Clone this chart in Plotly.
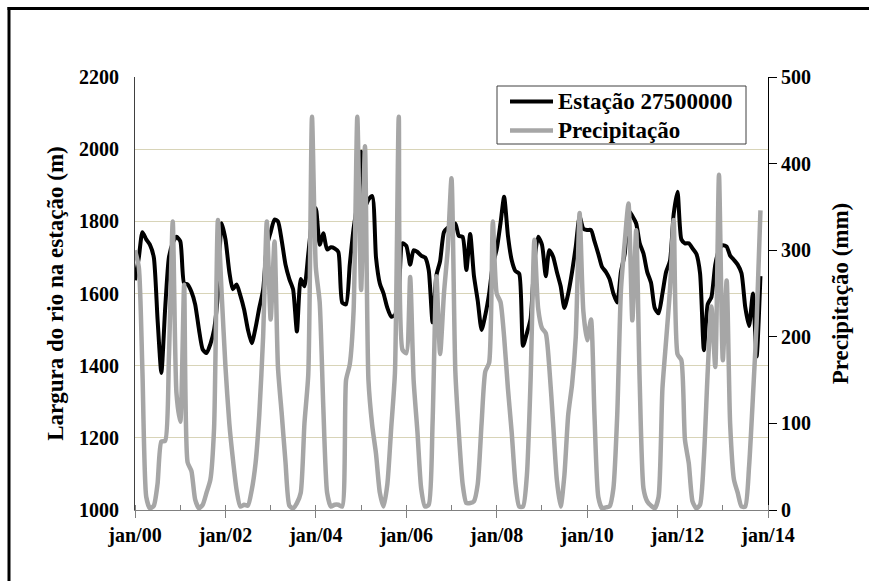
import pandas as pd
import plotly.graph_objects as go

# Monthly series, Jan 2000 - Nov 2013
start_month = "2000-01-01"
n_months = 167

# River width at gauge station 27500000 (m)
largura = [
    1637, 1700, 1770, 1750, 1735, 1700, 1530, 1380, 1560, 1700,
    1740, 1757, 1745, 1628, 1625, 1605, 1570, 1500, 1445, 1435,
    1460, 1500, 1600, 1795, 1750, 1660, 1612, 1625, 1595, 1555,
    1500, 1462, 1505, 1560, 1610, 1730, 1770, 1805, 1800, 1745,
    1680, 1640, 1612, 1495, 1640, 1620, 1710, 1800, 1836, 1735,
    1767, 1722, 1728, 1725, 1715, 1575, 1570, 1680, 1780, 1850,
    1993, 1840, 1860, 1870, 1700, 1628, 1600, 1560, 1536, 1540,
    1600, 1739, 1732, 1680, 1720, 1715, 1705, 1700, 1665, 1520,
    1650, 1690, 1770, 1782, 1788, 1794, 1760, 1757, 1665, 1765,
    1650, 1580, 1499, 1540, 1600, 1680, 1722, 1795, 1868, 1760,
    1693, 1662, 1655, 1455, 1490, 1530, 1690, 1757, 1735, 1648,
    1720, 1702, 1660, 1620, 1560, 1600, 1660, 1730, 1813, 1780,
    1776, 1776, 1745, 1710, 1674, 1660, 1640, 1600, 1575, 1660,
    1711, 1830, 1815, 1794, 1740, 1711, 1660, 1630, 1560, 1545,
    1600, 1660, 1690, 1820, 1882, 1750, 1739, 1739, 1725, 1710,
    1656, 1443, 1570, 1590, 1680, 1720, 1734, 1730, 1705, 1693,
    1680, 1656, 1563, 1510, 1600, 1425, 1648,
]

# Monthly precipitation (mm)
precipitacao = [
    300, 280, 160, 15, 2, 5, 30, 79, 80, 177,
    333, 135, 102, 260, 55, 45, 12, 2, 6, 20,
    35, 95, 335, 250, 165, 100, 60, 23, 4, 6,
    5, 23, 54, 110, 200, 333, 220, 310, 165, 110,
    55, 5, 2, 8, 20, 100, 157, 454, 280, 240,
    120, 20, 4, 6, 6, 4, 150, 168, 230, 454,
    254, 420, 150, 97, 65, 20, 4, 30, 95, 158,
    454, 185, 181, 269, 150, 90, 25, 4, 6, 100,
    270, 180, 250, 300, 383, 160, 90, 30, 8, 8,
    10, 30, 100, 160, 170, 333, 250, 240, 200, 140,
    90, 30, 4, 4, 40, 150, 312, 233, 210, 204,
    165, 100, 35, 4, 40, 110, 145, 200, 343, 230,
    196, 220, 110, 15, 2, 3, 4, 25, 110, 254,
    310, 354, 219, 323, 150, 25, 10, 5, 2, 15,
    140, 196, 254, 335, 180, 173, 81, 54, 10, 2,
    6, 60, 160, 235, 165, 387, 173, 265, 100, 35,
    20, 4, 4, 50, 130, 216, 346,
]

series_names = ["Estação 27500000", "Precipitação"]
series_colors = ["black", "#a6a6a6"]

# Axis labels
x_tick_dates = ["2000-01-01", "2002-01-01", "2004-01-01", "2006-01-01",
                "2008-01-01", "2010-01-01", "2012-01-01", "2014-01-01"]
x_tick_text = ["jan/00", "jan/02", "jan/04", "jan/06",
               "jan/08", "jan/10", "jan/12", "jan/14"]
x_minor_dates = [f"{y}-01-01" for y in range(2000, 2015)]
y_left_ticks = [1000, 1200, 1400, 1600, 1800, 2000, 2200]
y_right_ticks = [0, 100, 200, 300, 400, 500]

meses = pd.date_range(start_month, periods=n_months, freq="MS")

FONT = "Liberation Serif, Times New Roman, serif"
W, H = 869, 581
L, R, T, B = 135, 101, 77, 71
pw, ph = W - L - R, H - T - B


def px(x):
    """Page x pixel -> paper coordinate."""
    return (x - L) / pw


def py(y):
    """Page y pixel (from top) -> paper coordinate."""
    return (H - B - y) / ph


fig = go.Figure()
fig.add_trace(go.Scatter(
    x=meses, y=largura, name=series_names[0], mode="lines",
    line=dict(color=series_colors[0], width=4, shape="spline", smoothing=0.6),
))
fig.add_trace(go.Scatter(
    x=meses, y=precipitacao, name=series_names[1], mode="lines", yaxis="y2",
    line=dict(color=series_colors[1], width=4.5, shape="spline", smoothing=0.6),
))

tick_font = dict(family=FONT, size=20, color="black", weight="bold")
title_font = dict(family=FONT, size=23, color="black", weight="bold")

fig.update_layout(
    width=W, height=H,
    margin=dict(l=L, r=R, t=T, b=B),
    paper_bgcolor="white", plot_bgcolor="white",
    showlegend=False,
    xaxis=dict(
        type="date", range=["2000-01-01", "2014-01-01"],
        tickmode="array", tickvals=x_tick_dates, ticktext=x_tick_text,
        ticks="outside", ticklen=7, tickcolor="#808080", tickwidth=1,
        showline=True, linecolor="#808080", linewidth=1,
        showgrid=False, zeroline=False, tickfont=tick_font,
        minor=dict(tickmode="array", tickvals=x_minor_dates, ticks="inside",
                   ticklen=5, tickcolor="#808080", showgrid=False),
    ),
    yaxis=dict(
        range=[1000, 2200], tickmode="array", tickvals=y_left_ticks,
        showgrid=True, gridcolor="#d8d4b8", gridwidth=1,
        showline=True, linecolor="#404040", linewidth=1,
        ticks="", zeroline=False, tickfont=tick_font, ticklabelstandoff=11,
        title=dict(text="Largura do rio na estação (m)", font=title_font, standoff=8),
    ),
    yaxis2=dict(
        range=[0, 500], tickmode="array", tickvals=y_right_ticks,
        overlaying="y", side="right",
        showgrid=False, zeroline=False,
        showline=True, linecolor="black", linewidth=1,
        ticks="outside", ticklen=8, tickcolor="black",
        tickfont=tick_font,
        title=dict(text="Precipitação (mm)", font=title_font, standoff=21),
    ),
)

# Chart frame: solid bars along the left and top edges
for x0, x1, y0, y1 in [(7.5, 10.5, 7, H), (7.5, W, 7, 10)]:
    fig.add_shape(type="rect", xref="paper", yref="paper",
                  x0=px(x0), x1=px(x1), y0=py(y1), y1=py(y0),
                  line=dict(width=0), fillcolor="black", layer="above")

# Legend box with line samples
fig.add_shape(type="rect", xref="paper", yref="paper",
              x0=px(497), x1=px(746), y0=py(144), y1=py(86),
              line=dict(color="#404040", width=1), fillcolor="white", layer="above")
for i, (name, color) in enumerate(zip(series_names, series_colors)):
    yc = 101.5 + 29 * i
    fig.add_shape(type="line", xref="paper", yref="paper",
                  x0=px(510), x1=px(553), y0=py(yc), y1=py(yc),
                  line=dict(color=color, width=4 if i == 0 else 4.5), layer="above")
    fig.add_annotation(text=name, xref="paper", yref="paper",
                       x=px(556), y=py(yc), xanchor="left", yanchor="middle",
                       showarrow=False,
                       font=dict(family=FONT, size=23, color="black", weight="bold"))

fig.write_html("out.html")
